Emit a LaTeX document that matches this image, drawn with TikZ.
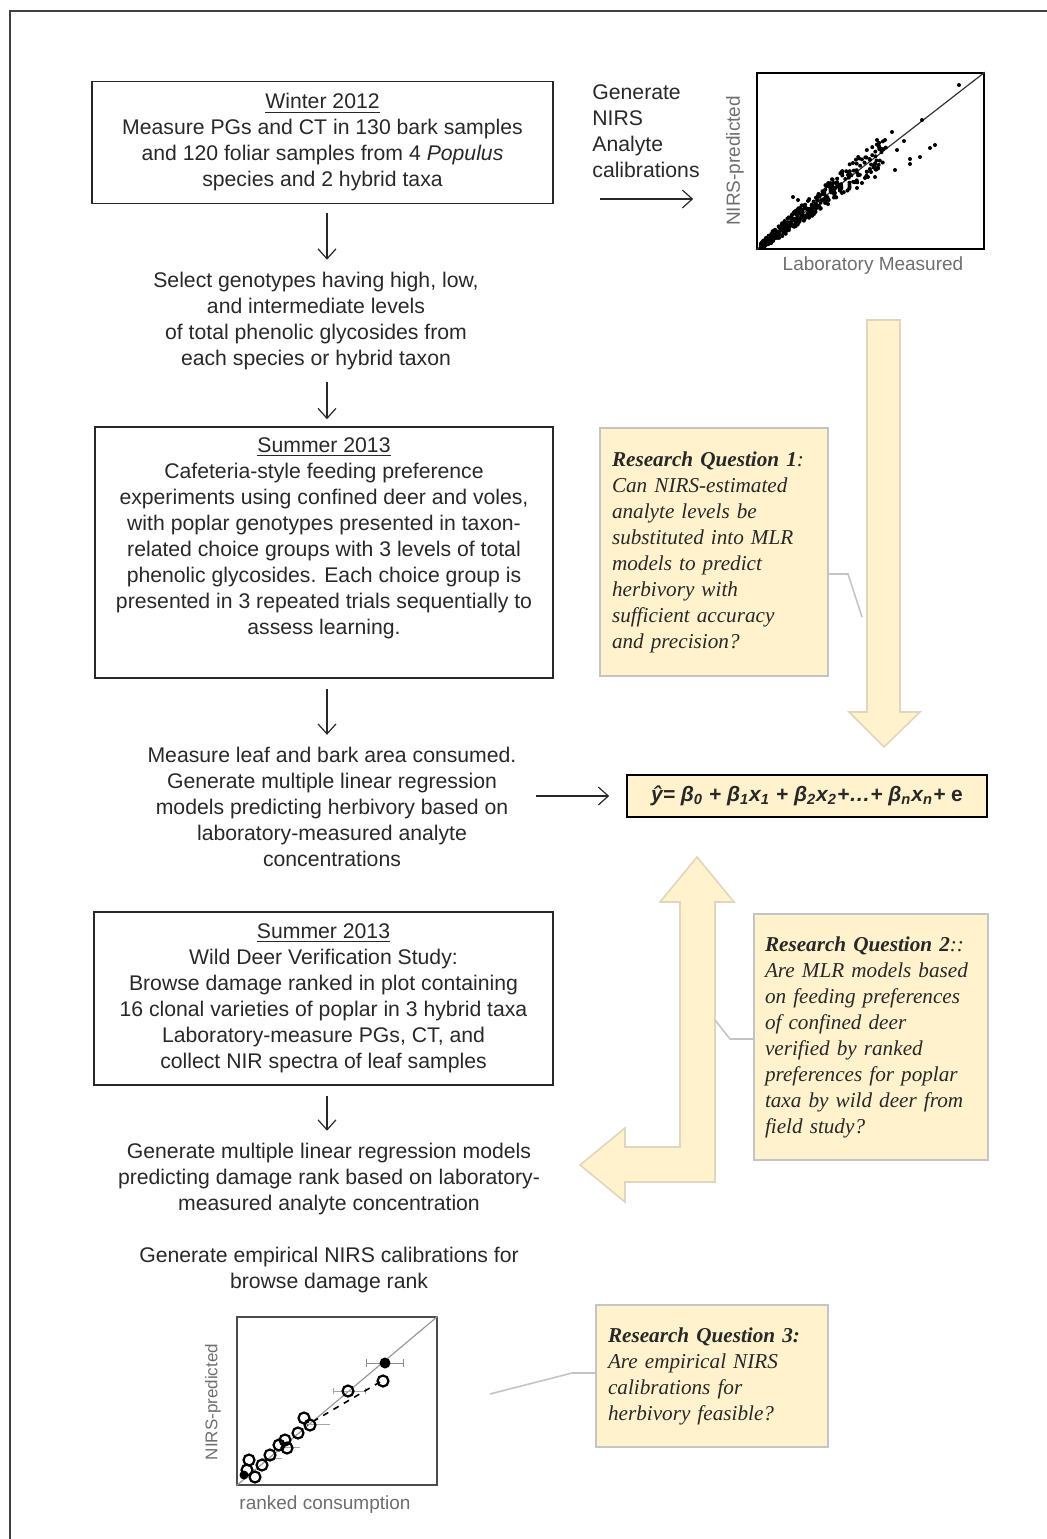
\documentclass[tikz,border=0pt]{standalone}
\usepackage{fontspec}
\setmainfont{Liberation Sans}
\newfontfamily\rqfont{Liberation Serif}
\usepackage{xcolor}
\usetikzlibrary{arrows.meta, positioning, calc}

\definecolor{rqfill}{RGB}{255,242,204}
\definecolor{rqline}{RGB}{196,196,196}
\definecolor{arrline}{RGB}{224,214,190}
\definecolor{ink}{RGB}{40,40,40}
\definecolor{plotgray}{RGB}{110,110,110}

\begin{document}
\begin{tikzpicture}[x=0.5pt, y=-0.5pt,
  every node/.style = {text=ink},
  txt/.style      = {font=\fontsize{10.6}{13}\selectfont, align=center, inner sep=6pt},
  stagebox/.style = {draw=ink, line width=0.8pt, txt},
  rqbox/.style    = {draw=rqline, fill=rqfill, line width=0.8pt, align=left,
                     font=\rqfont\itshape\fontsize{10.6}{13}\selectfont},
  flow/.style     = {-{Straight Barb[length=5pt,width=9pt]}, ink, line width=0.6pt},
  callout/.style  = {rqline, line width=0.8pt},
  bigarrow/.style = {fill=rqfill, draw=arrline, line width=0.8pt},
  axlabel/.style  = {text=plotgray, font=\fontsize{9.5}{11}\selectfont, inner sep=0pt},
]
\useasboundingbox (0,0) rectangle (1047,1539);
\draw[black!75, line width=1pt] (10,1539) -- (10,11) -- (1047,11);

% block arrows
\draw[bigarrow] (867,320) -- (900,320) -- (900,712) -- (920,712) -- (884,747)
  -- (849,712) -- (867,712) -- cycle;
\draw[bigarrow] (697,857) -- (734,902) -- (715,902) -- (715,1182) -- (625,1182)
  -- (625,1202) -- (580,1165) -- (625,1128) -- (625,1147) -- (680,1147)
  -- (680,902) -- (660,902) -- cycle;

% left column
\node[stagebox, minimum width=230.5pt, minimum height=60.5pt] (winter) at (322.5,142.5)
  {\underline{Winter 2012}\\ Measure PGs and CT in 130 bark samples\\
   and 120 foliar samples from 4 \textit{Populus}\\ species and 2 hybrid taxa};
\node[txt] (select) at (316,321)
  {Select genotypes having high, low,\\ and intermediate levels\\
   of total phenolic glycosides from\\ each species or hybrid taxon};
\node[draw=ink, line width=0.8pt, minimum width=229pt, minimum height=125.5pt] (cafe) at (324,552.5) {};
\node[txt] (cafetxt) at (324,538)
  {\underline{Summer 2013}\\ Cafeteria-style feeding preference\\
   experiments using confined deer and voles,\\ with poplar genotypes presented in taxon-\\
   related choice groups with 3 levels of total\\ phenolic glycosides. Each choice group is\\
   presented in 3 repeated trials sequentially to\\ assess learning.};
\node[txt] (measure) at (332,807)
  {Measure leaf and bark area consumed.\\ Generate multiple linear regression\\
   models predicting herbivory based on\\ laboratory-measured analyte\\ concentrations};
\node[stagebox, minimum width=229.5pt, minimum height=85.5pt] (wild) at (323.5,998.5)
  {\underline{Summer 2013}\\ Wild Deer Verification Study:\\ Browse damage ranked in plot containing\\
   16 clonal varieties of poplar in 3 hybrid taxa\\ Laboratory-measure PGs, CT, and\\
   collect NIR spectra of leaf samples};
\node[txt] (rankmlr) at (329,1179)
  {Generate multiple linear regression models\\ predicting damage rank based on laboratory-\\
   measured analyte concentration};
\node[txt] (empcal) at (329,1270)
  {Generate empirical NIRS calibrations for\\ browse damage rank};

% right column
\node[txt, align=left, anchor=west, inner sep=0pt] (gencal) at (592,131)
  {Generate\\ NIRS\\ Analyte\\ calibrations};
\node[draw=black, fill=rqfill, line width=0.8pt, minimum width=180pt, minimum height=21pt,
      font=\fontsize{10.5}{13}\selectfont\bfseries\itshape] (model) at (807,796)
  {ŷ= β\textsubscript{0} + β\textsubscript{1}x\textsubscript{1} + β\textsubscript{2}x\textsubscript{2}+…+ β\textsubscript{n}x\textsubscript{n}+ \textup{e}};
\node[rqbox, minimum width=114pt, minimum height=124pt, text width=102pt] (rq1) at (714,552)
  {\textbf{Research Question 1}:\\ Can NIRS-estimated\\ analyte levels be\\ substituted into MLR\\
   models to predict\\ herbivory with\\ sufficient accuracy\\ and precision?};
\node[rqbox, minimum width=117pt, minimum height=123pt, text width=106pt] (rq2) at (871,1037)
  {\textbf{Research Question 2}::\\ Are MLR models based\\ on feeding preferences\\ of confined deer\\
   verified by ranked\\ preferences for poplar\\ taxa by wild deer from\\ field study?};
\node[rqbox, minimum width=116pt, minimum height=71pt, text width=104pt] (rq3) at (712,1376)
  {\textbf{Research Question 3:}\\ Are empirical NIRS\\ calibrations for\\ herbivory feasible?};

% calibration plot
\node[draw=black, line width=0.8pt, minimum width=113.5pt, minimum height=88pt, inner sep=0pt] (nirsplot) at (870.5,161) {};
\node[axlabel] (labmeas) at (873,266) {Laboratory Measured};
\node[axlabel, rotate=90] (nirsy) at (735,161) {NIRS-predicted};
\draw[black!80, line width=0.6pt] (nirsplot.south west) -- (nirsplot.north east);
\pgfmathsetseed{2013}
\foreach \i in {1,...,460}{
  \pgfmathsetmacro\u{rnd}
  \pgfmathsetmacro\xx{761+125*\u*\u}
  \pgfmathsetmacro\yy{247-(\xx-759)*0.79+(rnd-0.45)*(3+26*\u)}
  \fill[black] (\xx,\yy) circle[radius=2];
}
\foreach \px/\py in {959/85, 922/120, 892/132, 877/140, 885/140, 897/150, 930/148, 920/157,
  910/159, 910/164, 895/170, 875/177, 868/177, 853/163, 862/183, 842/193, 857/188,
  793/197, 798/200, 904/141, 935/145, 848/175}
  \fill[black] (\px,\py) circle[radius=2];

% rank plot
\node[draw=black!70, line width=0.7pt, minimum width=100pt, minimum height=84pt, inner sep=0pt] (rankplot) at (337,1401) {};
\node[axlabel] (ranklab) at (325,1505) {ranked consumption};
\node[axlabel, font=\fontsize{8.5}{10}\selectfont, rotate=90] (ranky) at (213,1402) {NIRS-predicted};
\draw[black!40, line width=0.6pt] (rankplot.south west) -- (rankplot.north east);
\draw[black!45] (366,1363) -- (403,1363) (366,1359) -- (366,1367) (403,1359) -- (403,1367);
\draw[black!35] (333,1391) -- (365,1391) (333,1388) -- (333,1394) (365,1388) -- (365,1394);
\draw[black!35] (308,1424) -- (330,1424) (280,1447) -- (300,1447) (262,1458) -- (282,1458);
\draw[black, dashed, line width=0.8pt] (380,1382) -- (307,1425);
\fill[black] (385,1363) circle[radius=5.5];
\foreach \px/\py in {383/1381, 348/1391, 304/1418, 310/1425, 298/1433, 285/1440, 279/1445,
  287/1448, 270/1455, 262/1465, 249/1460, 247/1470, 255/1477}
  \draw[black, line width=1.1pt] (\px,\py) circle[radius=5.5];
\fill[black] (244,1475) circle[radius=4.5];

% connectors
\coordinate (col) at (327,0);
\draw[flow, shorten <=4.5pt] (winter.south -| col) -- (select.north -| col);
\draw[flow, shorten >=3.5pt] (select.south -| col) -- (cafe.north -| col);
\draw[flow, shorten <=5pt] (cafe.south -| col) -- (measure.north -| col);
\draw[flow, shorten <=5pt] (wild.south -| col) -- (rankmlr.north -| col);
\draw[flow, shorten <=3.5pt, shorten >=8.5pt] (measure.east |- model.west) -- (model.west);
\coordinate (calfrom) at (600,199);
\draw[flow, shorten >=31.5pt] (calfrom) -- (calfrom -| nirsplot.west);

\coordinate (rq1bend) at (848,574);
\coordinate (rq1tip) at (862,617);
\draw[callout] (rq1.east |- rq1bend) -- (rq1bend) -- (rq1tip);
\coordinate (rq2bend) at (730,1039);
\coordinate (rq2tip) at (715,1020);
\draw[callout] (rq2.west |- rq2bend) -- (rq2bend) -- (rq2tip);
\coordinate (rq3bend) at (572,1373);
\coordinate (rq3tip) at (490,1394);
\draw[callout] (rq3.west |- rq3bend) -- (rq3bend) -- (rq3tip);

\end{tikzpicture}
\end{document}
